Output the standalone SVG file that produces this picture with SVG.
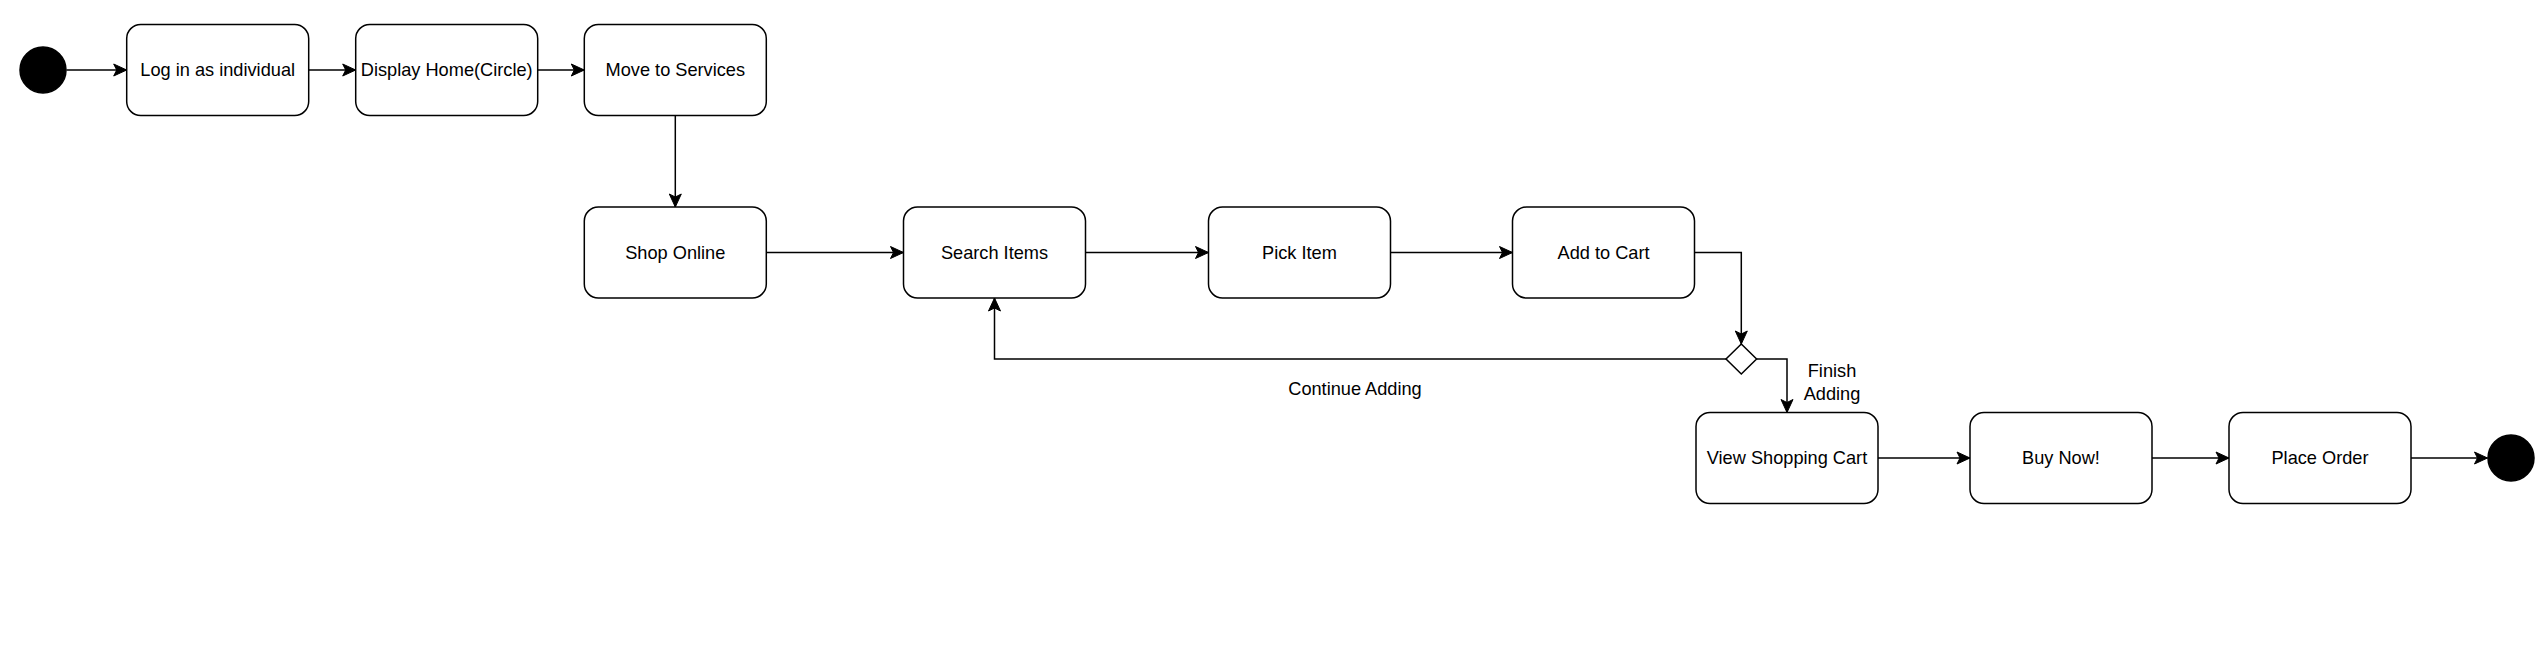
<svg xmlns="http://www.w3.org/2000/svg" width="2546" height="648" viewBox="0 0 2546 648">
<style>
.node rect{fill:#fff;stroke:#000;stroke-width:1.5}
.node text,.lbl{font-family:"Liberation Sans",Arial,Helvetica,sans-serif;font-size:18.2px;fill:#000;text-anchor:middle;dominant-baseline:central}
.edge{fill:none;stroke:#000;stroke-width:1.5}
.term{fill:#000;stroke:#000;stroke-width:1.5}
.dec{fill:#fff;stroke:#000;stroke-width:1.5}
</style>
<defs>
<marker id="arr" markerUnits="userSpaceOnUse" markerWidth="16" markerHeight="14" viewBox="-14 -7 16 14" refX="0" refY="0" orient="auto">
<path d="M-13,-6 L0,0 L-13,6 L-10,0 Z" fill="#000" stroke="#000" stroke-width="1"/>
</marker>
</defs>
<rect width="2546" height="648" fill="#fff"/>
<g id="connectors">
<path class="edge" marker-end="url(#arr)" d="M66.5,70 L126.7,70"/>
<path class="edge" marker-end="url(#arr)" d="M308.7,70 L355.7,70"/>
<path class="edge" marker-end="url(#arr)" d="M537.7,70 L584.3,70"/>
<path class="edge" marker-end="url(#arr)" d="M675.3,115.5 L675.3,207"/>
<path class="edge" marker-end="url(#arr)" d="M766.3,252.5 L903.5,252.5"/>
<path class="edge" marker-end="url(#arr)" d="M1085.5,252.5 L1208.5,252.5"/>
<path class="edge" marker-end="url(#arr)" d="M1390.5,252.5 L1512.5,252.5"/>
<path class="edge" marker-end="url(#arr)" d="M1694.5,252.5 L1741.3,252.5 L1741.3,344"/>
<path class="edge" marker-end="url(#arr)" d="M1726,359 L994.5,359 L994.5,298"/>
<path class="edge" marker-end="url(#arr)" d="M1756.6,359 L1787,359 L1787,412.5"/>
<path class="edge" marker-end="url(#arr)" d="M1878,458 L1970,458"/>
<path class="edge" marker-end="url(#arr)" d="M2152,458 L2229,458"/>
<path class="edge" marker-end="url(#arr)" d="M2411,458 L2487.5,458"/>
<text class="lbl" x="1355" y="389">Continue Adding</text>
<text class="lbl" x="1832" y="371">Finish</text>
<text class="lbl" x="1832" y="394">Adding</text>
</g>
<g id="start"><circle class="term" cx="43" cy="70" r="23"/></g>
<g id="login" class="node"><rect x="126.7" y="24.5" width="182" height="91" rx="14"/><text x="217.7" y="70">Log in as individual</text></g>
<g id="displayHome" class="node"><rect x="355.7" y="24.5" width="182" height="91" rx="14"/><text x="446.7" y="70">Display Home(Circle)</text></g>
<g id="moveServices" class="node"><rect x="584.3" y="24.5" width="182" height="91" rx="14"/><text x="675.3" y="70">Move to Services</text></g>
<g id="shopOnline" class="node"><rect x="584.3" y="207" width="182" height="91" rx="14"/><text x="675.3" y="252.5">Shop Online</text></g>
<g id="searchItems" class="node"><rect x="903.5" y="207" width="182" height="91" rx="14"/><text x="994.5" y="252.5">Search Items</text></g>
<g id="pickItem" class="node"><rect x="1208.5" y="207" width="182" height="91" rx="14"/><text x="1299.5" y="252.5">Pick Item</text></g>
<g id="addCart" class="node"><rect x="1512.5" y="207" width="182" height="91" rx="14"/><text x="1603.5" y="252.5">Add to Cart</text></g>
<g id="decision"><path class="dec" d="M1741.3,344 L1756.6,359 L1741.3,374 L1726,359 Z"/></g>
<g id="viewCart" class="node"><rect x="1696" y="412.5" width="182" height="91" rx="14"/><text x="1787" y="458">View Shopping Cart</text></g>
<g id="buyNow" class="node"><rect x="1970" y="412.5" width="182" height="91" rx="14"/><text x="2061" y="458">Buy Now!</text></g>
<g id="placeOrder" class="node"><rect x="2229" y="412.5" width="182" height="91" rx="14"/><text x="2320" y="458">Place Order</text></g>
<g id="end"><circle class="term" cx="2511" cy="458" r="23"/></g>
</svg>
